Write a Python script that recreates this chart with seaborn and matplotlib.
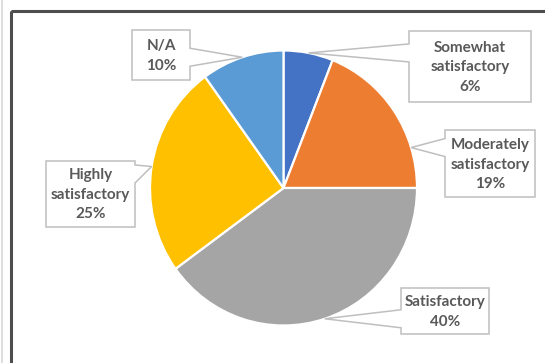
import matplotlib
matplotlib.use("Agg")
import matplotlib.pyplot as plt
from matplotlib.patches import Polygon, Rectangle
import numpy as np
import seaborn as sns

# Survey responses, in clockwise order from 12 o'clock
categories = ["Somewhat satisfactory", "Moderately satisfactory", "Satisfactory",
              "Highly satisfactory", "N/A"]
shares = [6, 19, 40, 25, 10]
colors = ["#4472C4", "#ED7D31", "#A5A5A5", "#FFC000", "#5B9BD5"]

# Callout boxes in pixel coordinates (x0, y0, x1, y1), side the pointer leaves from,
# and where along its slice the pointer lands (0 = slice start, 1 = slice end)
callout_boxes = [(409, 31, 531, 102), (445, 130, 535, 197), (401, 288, 489, 334),
                 (46, 161, 135, 227), (132, 30, 190, 80)]
callout_sides = ["left", "left", "left", "right", "right"]
pointer_pos = [0.5, 0.75, 0.5, 0.5, 0.5]

W, H = 545, 363
sns.set_theme(style="white")
plt.rcParams["font.family"] = ["Lato", "DejaVu Sans"]

fig = plt.figure(figsize=(W / 100, H / 100), dpi=100)
fig.patch.set_facecolor("white")

# pie bounding box in pixels
cx, cy, rx, ry = 283.5, 188.0, 133.5, 137.5
pie_ax = fig.add_axes([(cx - rx) / W, (H - cy - ry) / H, 2 * rx / W, 2 * ry / H])
pal = sns.color_palette(colors)
pie_ax.pie(shares, colors=pal, startangle=90, counterclock=False, radius=1,
           wedgeprops=dict(edgecolor="white", linewidth=1.6))
pie_ax.set_aspect("auto")
pie_ax.set_xlim(-1, 1)
pie_ax.set_ylim(-1, 1)
pie_ax.patch.set_visible(False)
pie_ax.axis("off")

# overlay in pixel coordinates for frame and callouts
ov = fig.add_axes([0, 0, 1, 1])
ov.set_xlim(0, W)
ov.set_ylim(H, 0)
ov.patch.set_visible(False)
ov.axis("off")

ov.add_patch(Rectangle((10.5, 10.5), 700, 500, fill=False, edgecolor="#4d4d4d",
                       linewidth=2.2, zorder=1))
ov.plot([1.5, 1.5], [0, H], color="#d9d9d9", linewidth=1.2, zorder=1)

edge_col = "#BFBFBF"
text_col = "#595959"
cum = np.concatenate([[0], np.cumsum(shares)]) / sum(shares) * 360.0
half = 9
for i, (cat, v) in enumerate(zip(categories, shares)):
    a0, a1 = cum[i], cum[i + 1]
    ang = np.deg2rad(a0 + (a1 - a0) * pointer_pos[i])
    tx, ty = cx + rx * np.sin(ang), cy - ry * np.cos(ang)
    x0, y0, x1, y1 = callout_boxes[i]
    b = min(max(ty, y0 + half + 4), y1 - half - 4)
    if callout_sides[i] == "left":
        pts = [(x0, y0), (x1, y0), (x1, y1), (x0, y1), (x0, b + half), (tx, ty), (x0, b - half)]
    else:
        pts = [(x0, y0), (x1, y0), (x1, b - half), (tx, ty), (x1, b + half), (x1, y1), (x0, y1)]
    ov.add_patch(Polygon(pts, closed=True, facecolor="white", edgecolor=edge_col,
                         linewidth=1.1, zorder=3, joinstyle="miter"))
    label = cat.replace(" ", "\n", 1) + f"\n{v}%"
    ov.text((x0 + x1) / 2, (y0 + y1) / 2 + 1, label, ha="center", va="center",
            fontsize=11, fontweight="bold", color=text_col, linespacing=1.5, zorder=4)

fig.savefig("out.png", dpi=100, facecolor="white")
